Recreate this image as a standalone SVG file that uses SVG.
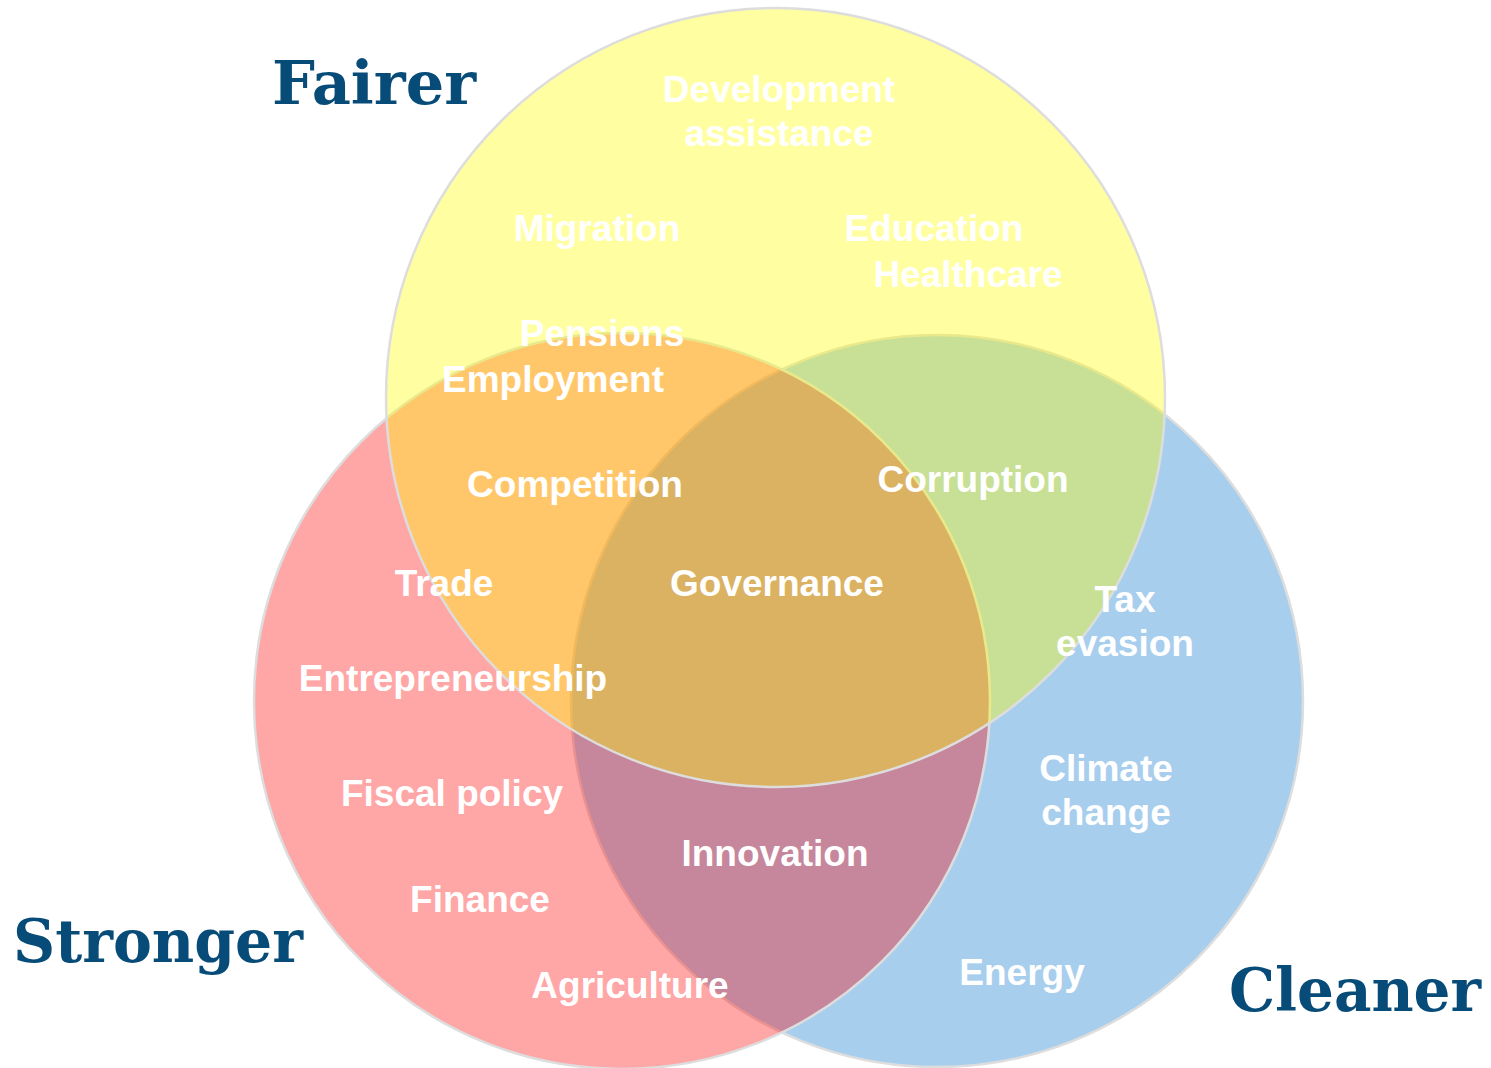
<svg xmlns="http://www.w3.org/2000/svg" width="1491" height="1068" viewBox="0 0 1491 1068">
<style>
.c{stroke:#dddddd;stroke-width:2.5}
.t{font-family:"Liberation Sans",Arial,sans-serif;font-weight:bold;font-size:37px;fill:#ffffff;text-anchor:middle}
.h{font-family:"DejaVu Serif","Liberation Serif",serif;font-weight:bold;font-size:60px;fill:#074b79}
</style>
<rect width="1491" height="1068" fill="#ffffff"/>
<g id="circles">
<circle id="cleaner-circle" class="c" cx="937" cy="701" r="366" fill="#0673CE" fill-opacity="0.35"/>
<circle id="stronger-circle" class="c" cx="622" cy="701" r="368" fill="#FF0000" fill-opacity="0.35"/>
<circle id="fairer-circle" class="c" cx="775.5" cy="397.5" r="389.5" fill="#FFFF00" fill-opacity="0.37"/>
</g>
<g id="titles">
<text id="fairer" class="h" x="272" y="104" textLength="204" lengthAdjust="spacingAndGlyphs">Fairer</text>
<text id="stronger" class="h" x="13" y="962" textLength="290" lengthAdjust="spacingAndGlyphs">Stronger</text>
<text id="cleaner" class="h" x="1229" y="1011" textLength="252" lengthAdjust="spacingAndGlyphs">Cleaner</text>
</g>
<g id="labels">
<text class="t" x="779" y="102">Development</text>
<text class="t" x="779" y="146">assistance</text>
<text class="t" x="597" y="241">Migration</text>
<text class="t" x="934" y="241">Education</text>
<text class="t" x="968" y="287">Healthcare</text>
<text class="t" x="602" y="346">Pensions</text>
<text class="t" x="553" y="392">Employment</text>
<text class="t" x="575" y="497">Competition</text>
<text class="t" x="973" y="492">Corruption</text>
<text class="t" x="444" y="596">Trade</text>
<text class="t" x="777" y="596">Governance</text>
<text class="t" x="1125" y="612">Tax</text>
<text class="t" x="1125" y="656">evasion</text>
<text class="t" x="453" y="691">Entrepreneurship</text>
<text class="t" x="1106" y="781">Climate</text>
<text class="t" x="1106" y="825">change</text>
<text class="t" x="452" y="806">Fiscal policy</text>
<text class="t" x="775" y="866">Innovation</text>
<text class="t" x="480" y="912">Finance</text>
<text class="t" x="1022" y="985">Energy</text>
<text class="t" x="630" y="998">Agriculture</text>
</g>
</svg>
